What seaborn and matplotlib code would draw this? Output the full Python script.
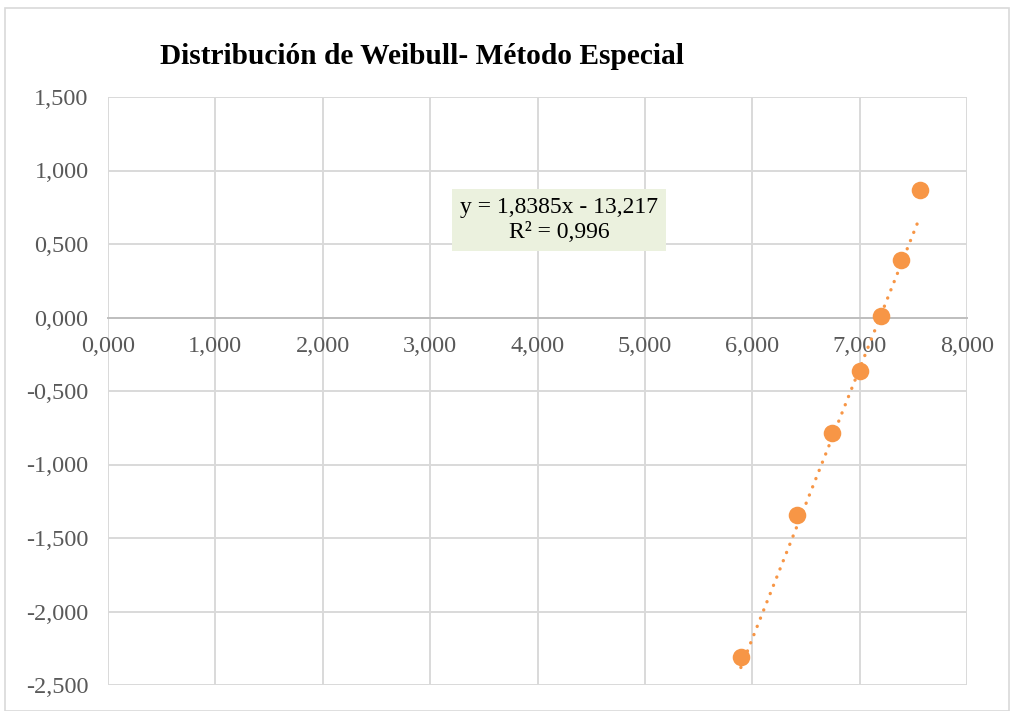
import numpy as np
import pandas as pd
import matplotlib
matplotlib.use("Agg")
import matplotlib.pyplot as plt
from matplotlib.patches import Rectangle
import seaborn as sns

# Data
ln_x = [5.894, 6.415, 6.741, 7.002, 7.197, 7.384, 7.560]
ln_y = [-2.310, -1.344, -0.786, -0.364, 0.010, 0.391, 0.867]
slope = 1.8385
intercept = -13.217
r2 = 0.996

x_ticks = [0, 1, 2, 3, 4, 5, 6, 7, 8]
y_ticks = [-2.5, -2.0, -1.5, -1.0, -0.5, 0.0, 0.5, 1.0, 1.5]

df = pd.DataFrame({"x": ln_x, "y": ln_y})

sns.set_theme(style="white")
plt.rcParams['font.family'] = ['Liberation Serif', 'DejaVu Serif']

fig = plt.figure(figsize=(10.14, 7.11), dpi=100)
ax = fig.add_axes([108/1014, 1 - 685/711, (967-108)/1014, (685-97)/711])

# outer chart border
fig.patches.append(Rectangle((5/1014, 0), 1 - 10/1014, 1 - 8/711, transform=fig.transFigure,
                             fill=False, edgecolor='#d9d9d9', linewidth=1.2))

orange = '#F79646'

# trendline (dotted)
tx = np.array([min(ln_x), max(ln_x)])
ty = slope * tx + intercept
ax.plot(tx, ty, color=orange, linewidth=2.4, linestyle=(0, (0.05, 2.6)),
        dash_capstyle='round', solid_capstyle='round', zorder=3)

sns.scatterplot(data=df, x="x", y="y", ax=ax, color=orange, s=160, edgecolor=orange,
                linewidth=0, zorder=4)

ax.set_xlim(0, 8)
ax.set_ylim(-2.5, 1.5)
ax.set_xticks(x_ticks)
ax.set_yticks(y_ticks)

fmt = lambda v: f"{v:,.3f}".replace('.', ',')
ax.set_xticklabels([fmt(v) for v in x_ticks])
ax.set_yticklabels([fmt(v) for v in y_ticks])

ax.grid(True, color='#d9d9d9', linewidth=1.4)
ax.set_axisbelow(True)
for s in ['top', 'right', 'left']:
    ax.spines[s].set_visible(False)
ax.spines['bottom'].set_position(('data', 0))
ax.spines['bottom'].set_color('#bfbfbf')
ax.spines['bottom'].set_linewidth(1.4)
ax.spines['bottom'].set_zorder(2)

ax.tick_params(axis='x', length=0, pad=13, labelsize=17.5, labelcolor='#595959')
ax.tick_params(axis='y', length=0, pad=14, labelsize=17.5, labelcolor='#595959')
ax.set_xlabel("")
ax.set_ylabel("")

fig.text(160/1014, 1 - 57/711, "Distribución de Weibull- Método Especial",
         fontsize=21.2, fontweight='bold', ha='left', va='center', color='black')

eq = f"y = {slope:.4f}x - {abs(intercept):.3f}".replace('.', ',') + "\n" + f"R² = {r2:.3f}".replace('.', ',')
ax.text(4.2, 0.663, eq, fontsize=17, ha='center', va='center', color='black',
        linespacing=1.2, zorder=5,
        bbox=dict(boxstyle='square,pad=0.35', facecolor='#ebf1de', edgecolor='none'))

fig.savefig("out.png", dpi=100)
